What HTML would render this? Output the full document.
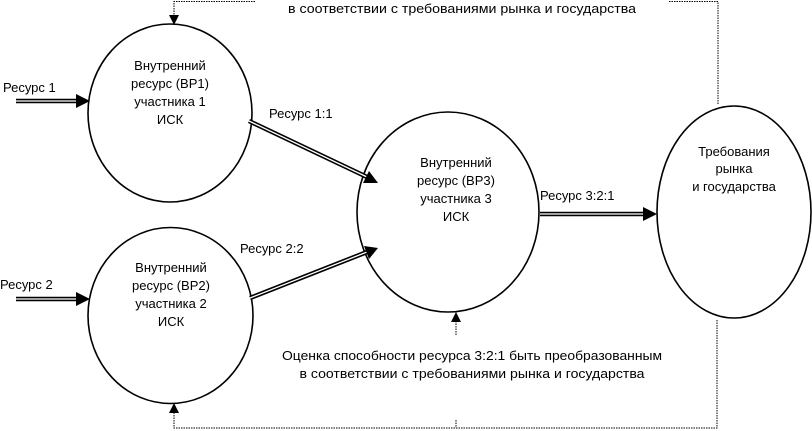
<!DOCTYPE html>
<html><head><meta charset="utf-8"><style>
html,body{margin:0;padding:0;background:#fff;width:812px;height:431px;overflow:hidden}
svg text{font-family:"Liberation Sans",sans-serif;font-size:13px;fill:#000}
</style></head><body>
<svg width="812" height="431" viewBox="0 0 812 431" xmlns="http://www.w3.org/2000/svg">
<g fill="none" stroke="#000" stroke-width="1.6">
<ellipse cx="170" cy="113" rx="82" ry="89"/>
<ellipse cx="170.5" cy="315.5" rx="82.5" ry="88"/>
<ellipse cx="448" cy="212" rx="91" ry="100"/>
<ellipse cx="734" cy="212" rx="77" ry="106"/>
</g>
<g fill="none" stroke="#000" stroke-width="1" stroke-dasharray="1.5,1">
<path d="M255 1.5 H174 V16"/>
<path d="M669 1.5 H718 V105"/>
<path d="M717 320 V428 H174 V413"/>
<path d="M456 420 V428"/>
<path d="M456 335 V322"/>
</g>
<g fill="#000">
<polygon points="169,15 179,15 174,25"/>
<polygon points="169,413 179,413 174,403"/>
<polygon points="451,322 461,322 456,312"/>
</g>
<g fill="none">
<path d="M16 101 H78 M16 299 H78 M540 214 H645 M249 121 L367 177 M250 298 L367 252" stroke="#000" stroke-width="4.5"/>
<path d="M16 101 H78 M16 299 H78 M540 214 H645 M249 121 L367 177 M250 298 L367 252" stroke="#fff" stroke-width="1.3"/>
</g>
<g fill="#000">
<polygon points="76,94 90,101 76,108"/>
<polygon points="76,292 90,299 76,306"/>
<polygon points="643,207 657,214 643,221"/>
<polygon points="378,183 363,183 369,171"/>
<polygon points="378,248 369,259 364,246"/>
</g>
<g text-anchor="middle">
<text x="170" y="70">Внутренний</text>
<text x="170" y="88">ресурс (ВР1)</text>
<text x="170" y="106">участника 1</text>
<text x="170" y="124">ИСК</text>
<text x="171" y="272">Внутренний</text>
<text x="171" y="290">ресурс (ВР2)</text>
<text x="171" y="308">участника 2</text>
<text x="171" y="326">ИСК</text>
<text x="456" y="167">Внутренний</text>
<text x="456" y="185">ресурс (ВР3)</text>
<text x="456" y="203">участника 3</text>
<text x="456" y="221">ИСК</text>
<text x="734" y="156">Требования</text>
<text x="734" y="173">рынка</text>
<text x="734" y="191">и государства</text>
<text x="462" y="13" textLength="348" lengthAdjust="spacingAndGlyphs">в соответствии с требованиями рынка и  государства</text>
<text x="472" y="360" textLength="380" lengthAdjust="spacingAndGlyphs">Оценка способности ресурса 3:2:1 быть преобразованным</text>
<text x="472" y="378" textLength="345" lengthAdjust="spacingAndGlyphs">в соответствии с требованиями рынка и государства</text>
</g>
<text x="3" y="92">Ресурс 1</text>
<text x="0" y="289">Ресурс 2</text>
<text x="269" y="118">Ресурс 1:1</text>
<text x="240" y="253">Ресурс 2:2</text>
<text x="540" y="200">Ресурс 3:2:1</text>
</svg>
</body></html>
